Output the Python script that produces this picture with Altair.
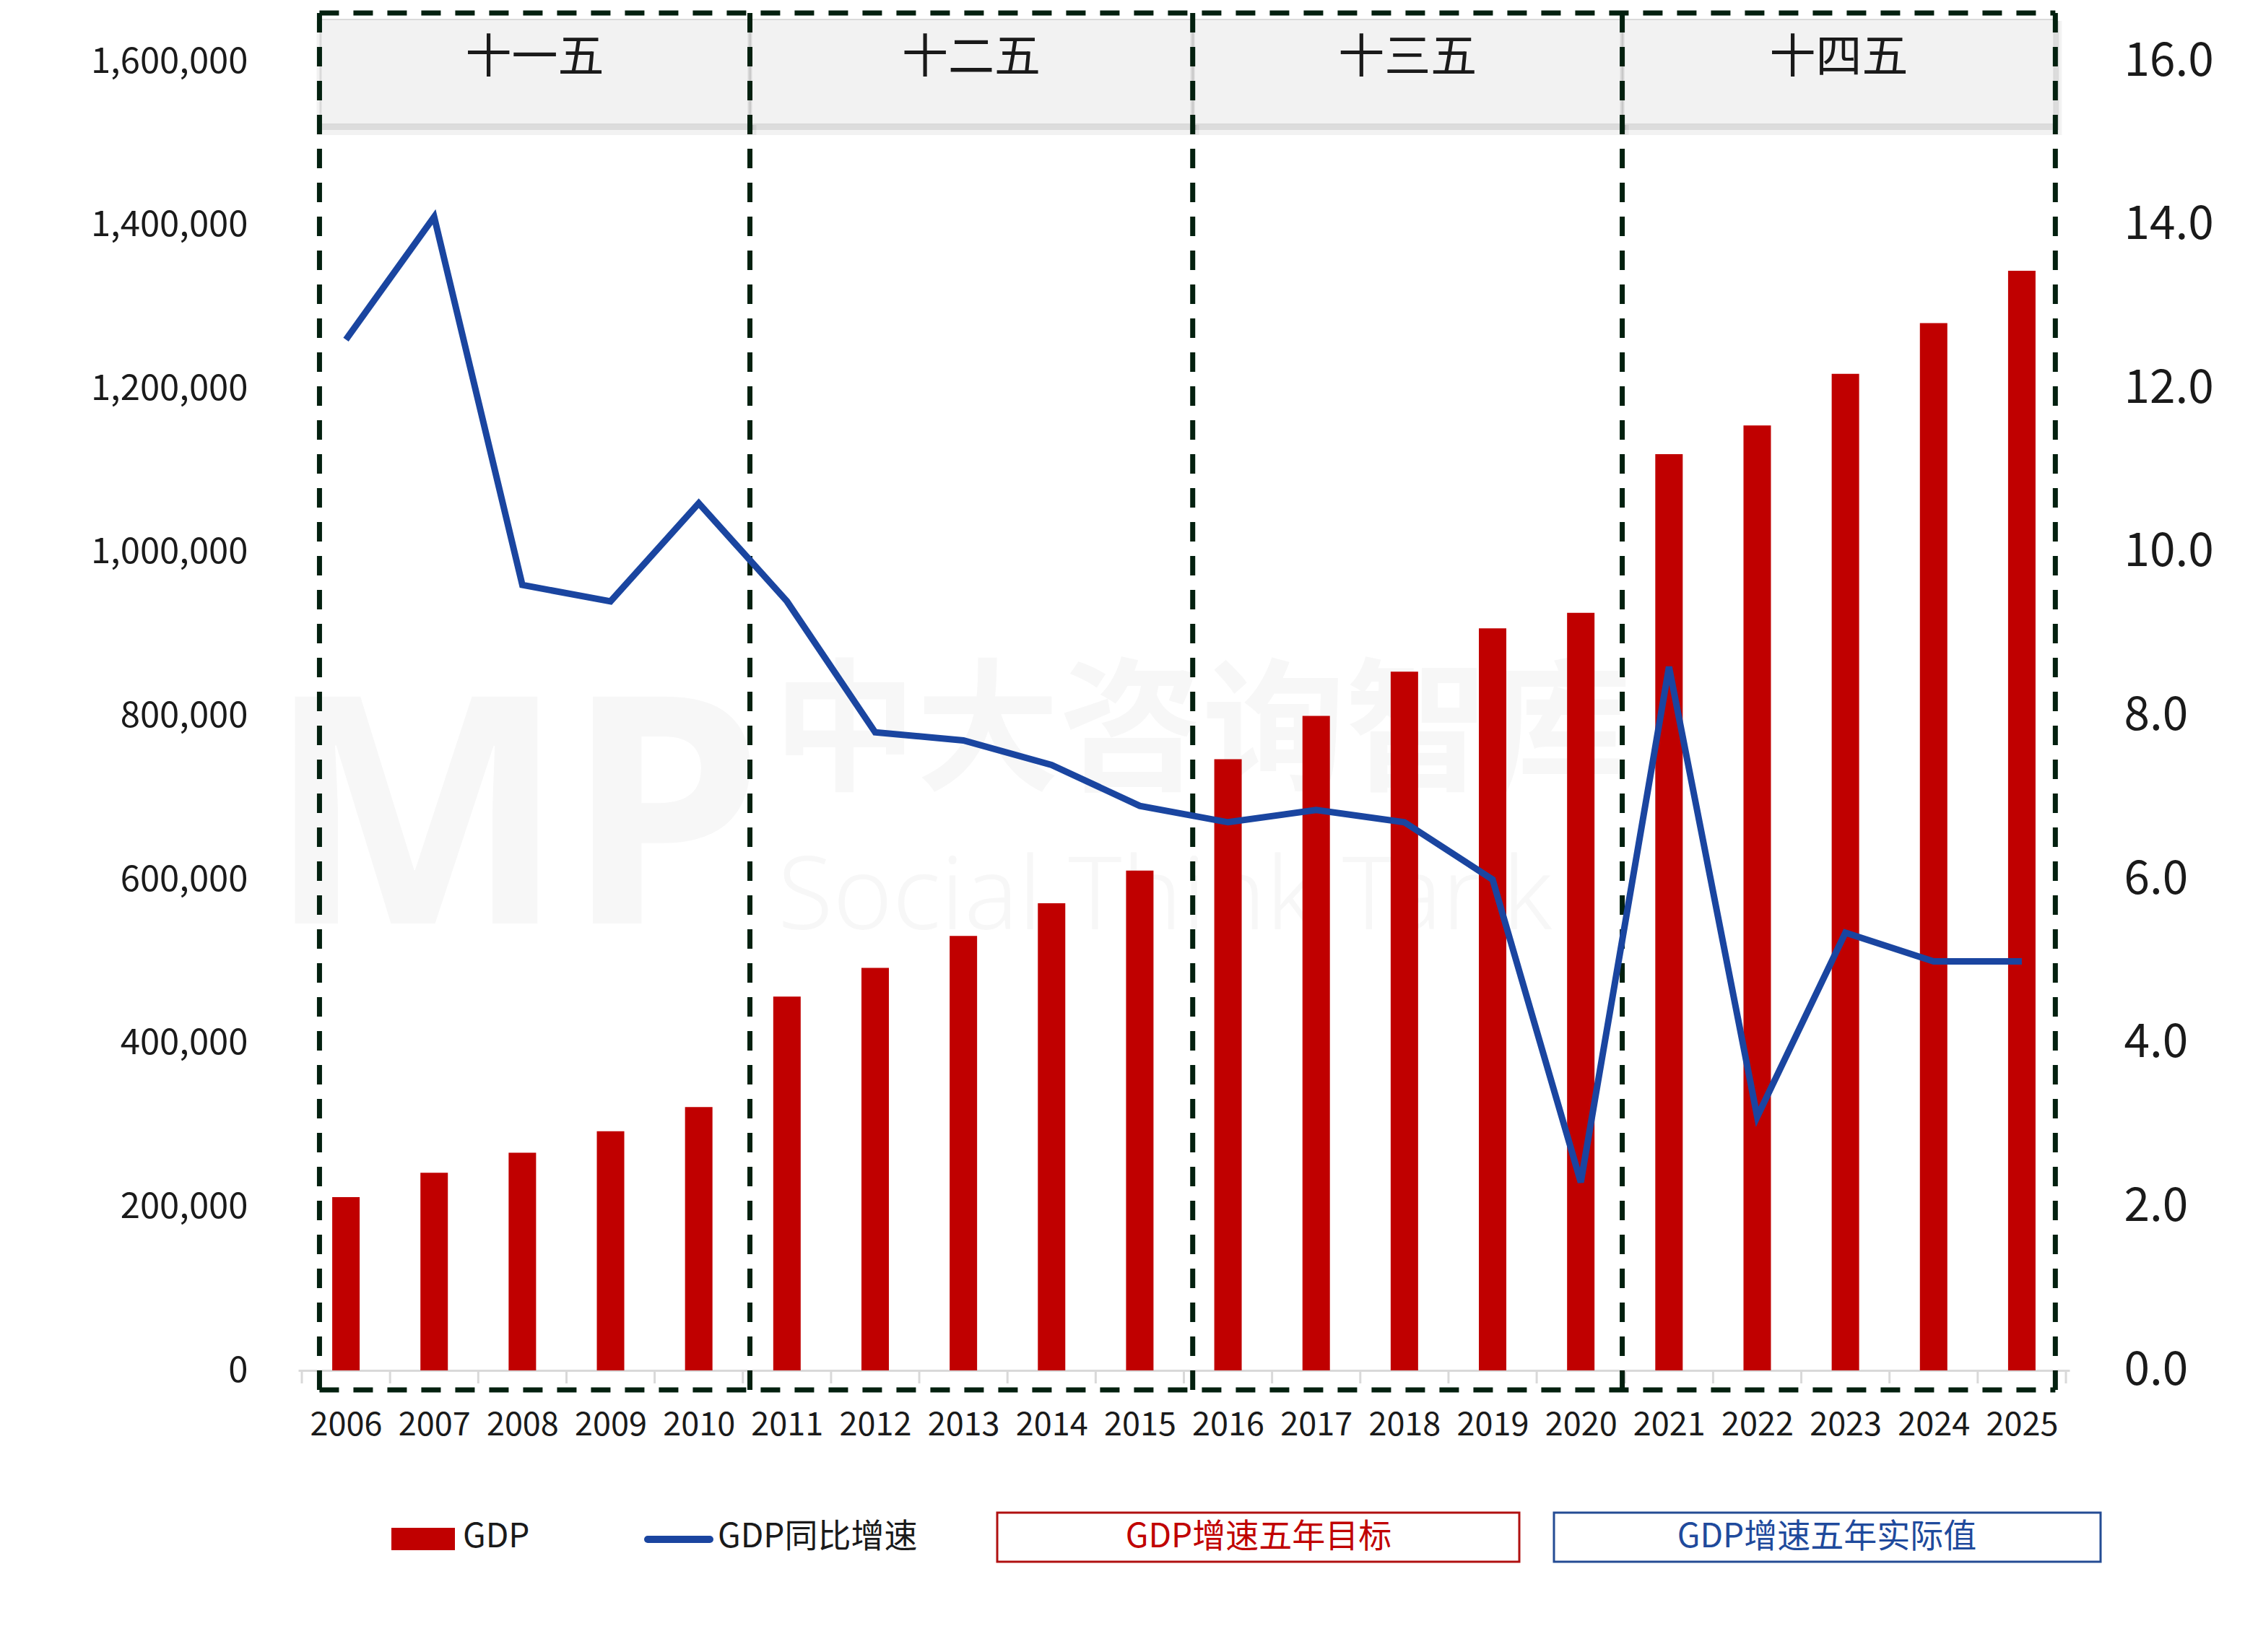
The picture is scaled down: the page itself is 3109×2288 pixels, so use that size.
import altair as alt
import pandas as pd

# ---------------- data ----------------
years = list(range(2006, 2026))
gdp = [211800, 241600, 266000, 292300, 322000,
       457000, 492000, 531000, 571000, 611000,
       747000, 800000, 854000, 907000, 926000,
       1120000, 1155000, 1218000, 1280000, 1344000]
growth = [12.6, 14.1, 9.6, 9.4, 10.6,
          9.4, 7.8, 7.7, 7.4, 6.9,
          6.7, 6.85, 6.7, 6.0, 2.3,
          8.6, 3.1, 5.35, 5.0, 5.0]
periods = ["十一五", "十二五", "十三五", "十四五"]
left_ticks = [0, 200000, 400000, 600000, 800000, 1000000, 1200000, 1400000, 1600000]
right_ticks = [0, 2, 4, 6, 8, 10, 12, 14, 16]
legend_labels = ["GDP", "GDP同比增速", "GDP增速五年目标", "GDP增速五年实际值"]

# ---------------- layout ----------------
bounds = [2005.70, 2010.58, 2015.60, 2020.47, 2025.38]  # dashed frame edges (year units)
FONT = "Noto Sans CJK SC"
W, H = 2453, 1813
TXT = "#1a1a1a"
RED = "#C00000"
BLUE = "#1A45A0"
DASH_C = "#03200F"

xscale = alt.Scale(domain=[2005.5, 2025.5], nice=False, zero=False)
xaxis = alt.Axis(orient="bottom", values=years, format="d", labelFont=FONT, labelFontSize=45,
                 labelColor=TXT, ticks=False, tickSize=0, grid=False,
                 domainColor="#D9D9D9", domainWidth=3, labelPadding=75,
                 labelBaseline="middle", labelFlush=False, labelOverlap=False,
                 labelLimit=400, title=None)
# every layer that uses the shared x scale carries the same axis spec so they merge
xs = dict(scale=xscale, axis=xaxis)

df = pd.DataFrame({"year": years, "gdp": gdp, "growth": growth})
pdf = pd.DataFrame({"name": periods, "x0": bounds[:-1], "x1": bounds[1:]})
pdf["xm"] = (pdf["x0"] + pdf["x1"]) / 2
bdf = pd.DataFrame({"b": bounds})
edge = pd.DataFrame({"x0": [bounds[0]], "x1": [bounds[-1]]})
tick_pos = pd.DataFrame({"t": [y - 0.5 for y in years] + [years[-1] + 0.5]})

# ---------------- watermark ----------------
wm1 = alt.Chart(pd.DataFrame({"t": ["MP"]})).mark_text(
    font="Noto Sans", fontWeight="bold", fontSize=440, color="#F7F7F7",
    align="center", baseline="alphabetic").encode(
    text="t:N", x=alt.value(300), y=alt.value(1194))
wm2 = alt.Chart(pd.DataFrame({"t": ["中大咨询智库"]})).mark_text(
    font=FONT, fontWeight="bold", fontSize=198, color="#F7F7F7",
    align="left", baseline="middle").encode(
    text="t:N", x=alt.value(658), y=alt.value(935))
wm3 = alt.Chart(pd.DataFrame({"t": ["Social Think Tank"]})).mark_text(
    font="Noto Sans", fontWeight=300, fontSize=140, color="#F7F7F7",
    align="left", baseline="alphabetic").encode(
    text="t:N", x=alt.value(664), y=alt.value(1202))

# ---------------- header boxes ----------------
shadow_a = alt.Chart(pdf).mark_rect(color="#000000", opacity=0.05, xOffset=-4, x2Offset=9).encode(
    x=alt.X("x0:Q", **xs), x2="x1:Q", y=alt.value(-56), y2=alt.value(102))
shadow_b = alt.Chart(pdf).mark_rect(color="#000000", opacity=0.09, xOffset=0, x2Offset=5).encode(
    x=alt.X("x0:Q", **xs), x2="x1:Q", y=alt.value(-56), y2=alt.value(95))
header = alt.Chart(pdf).mark_rect(color="#F2F2F2", stroke="#DADADA", strokeWidth=2,
                                  xOffset=2, x2Offset=-2).encode(
    x=alt.X("x0:Q", **xs), x2="x1:Q", y=alt.value(-58), y2=alt.value(87))
header_txt = alt.Chart(pdf).mark_text(font=FONT, fontSize=64, color=TXT,
                                      align="center", baseline="middle").encode(
    x=alt.X("xm:Q", **xs), y=alt.value(-4), text="name:N")

# ---------------- dashed frames ----------------
dash = dict(color=DASH_C, strokeWidth=7, strokeDash=[27, 20])
vlines = alt.Chart(bdf).mark_rule(**dash).encode(
    x=alt.X("b:Q", **xs), y=alt.value(-67), y2=alt.value(1840))
top_line = alt.Chart(edge).mark_rule(**dash).encode(
    x=alt.X("x0:Q", **xs), x2="x1:Q", y=alt.value(-67))
bot_line = alt.Chart(edge).mark_rule(**dash).encode(
    x=alt.X("x0:Q", **xs), x2="x1:Q", y=alt.value(1840))

# ---------------- gray x ticks ----------------
xticks = alt.Chart(tick_pos).mark_rule(color="#D9D9D9", strokeWidth=3).encode(
    x=alt.X("t:Q", **xs), y=alt.value(H), y2=alt.value(H + 18))

# ---------------- bars and line ----------------
bars = alt.Chart(df).mark_bar(color=RED, size=38).encode(
    x=alt.X("year:Q", **xs),
    y=alt.Y("gdp:Q", scale=alt.Scale(domain=[0, 1600000], nice=False),
            axis=alt.Axis(orient="left", values=left_ticks, format=",.0f", labelFont=FONT,
                          labelFontSize=49, labelColor=TXT, ticks=False, tickSize=0,
                          domain=False, grid=False, labelPadding=70, labelLimit=500,
                          title=None)),
)
line = alt.Chart(df).mark_line(color=BLUE, strokeWidth=9, strokeJoin="miter").encode(
    x=alt.X("year:Q", **xs),
    y=alt.Y("growth:Q", scale=alt.Scale(domain=[0, 16], nice=False),
            axis=alt.Axis(orient="right", values=right_ticks, format=".1f", labelFont=FONT,
                          labelFontSize=64, labelColor=TXT, ticks=False, tickSize=0,
                          domain=False, grid=False, labelPadding=75, labelLimit=500,
                          title=None)),
)

# ---------------- legend ----------------
LY = 2044
LFS = 46
leg_rect = alt.Chart(pd.DataFrame({"l": [legend_labels[0]]})).mark_rect(color=RED).encode(
    x=alt.value(129), x2=alt.value(217), y=alt.value(2031), y2=alt.value(2062))
leg_t1 = alt.Chart(pd.DataFrame({"l": [legend_labels[0]]})).mark_text(
    font=FONT, fontSize=LFS, color=TXT, align="left", baseline="middle").encode(
    text="l:N", x=alt.value(228), y=alt.value(LY))
leg_line = alt.Chart(pd.DataFrame({"l": [legend_labels[1]]})).mark_rule(
    color=BLUE, strokeWidth=10, strokeCap="round").encode(
    x=alt.value(484), x2=alt.value(570), y=alt.value(2047))
leg_t2 = alt.Chart(pd.DataFrame({"l": [legend_labels[1]]})).mark_text(
    font=FONT, fontSize=LFS, color=TXT, align="left", baseline="middle").encode(
    text="l:N", x=alt.value(581), y=alt.value(LY))
box_r = alt.Chart(pd.DataFrame({"l": [legend_labels[2]]})).mark_rect(
    fill="#FFFFFF", stroke="#B01010", strokeWidth=3).encode(
    x=alt.value(968), x2=alt.value(1691), y=alt.value(2010), y2=alt.value(2078))
box_r_t = alt.Chart(pd.DataFrame({"l": [legend_labels[2]]})).mark_text(
    font=FONT, fontSize=LFS, color=RED, align="center", baseline="middle").encode(
    text="l:N", x=alt.value(1330), y=alt.value(LY))
box_b = alt.Chart(pd.DataFrame({"l": [legend_labels[3]]})).mark_rect(
    fill="#FFFFFF", stroke="#244C94", strokeWidth=3).encode(
    x=alt.value(1739), x2=alt.value(2496), y=alt.value(2010), y2=alt.value(2078))
box_b_t = alt.Chart(pd.DataFrame({"l": [legend_labels[3]]})).mark_text(
    font=FONT, fontSize=LFS, color="#1F4A9C", align="center", baseline="middle").encode(
    text="l:N", x=alt.value(2117), y=alt.value(LY))

chart = alt.layer(
    wm1, wm2, wm3,
    shadow_a, shadow_b, header, header_txt,
    xticks, vlines, top_line, bot_line,
    bars, line,
    leg_rect, leg_t1, leg_line, leg_t2, box_r, box_r_t, box_b, box_b_t,
).resolve_scale(y="independent").properties(
    width=W, height=H,
    padding={"left": 413, "top": 85, "right": 243, "bottom": 390},
    autosize=alt.AutoSizeParams(type="none"),
    background="#FFFFFF",
).configure_view(stroke=None)

chart.save("out.html", embed_options={"renderer": "svg", "actions": False})
